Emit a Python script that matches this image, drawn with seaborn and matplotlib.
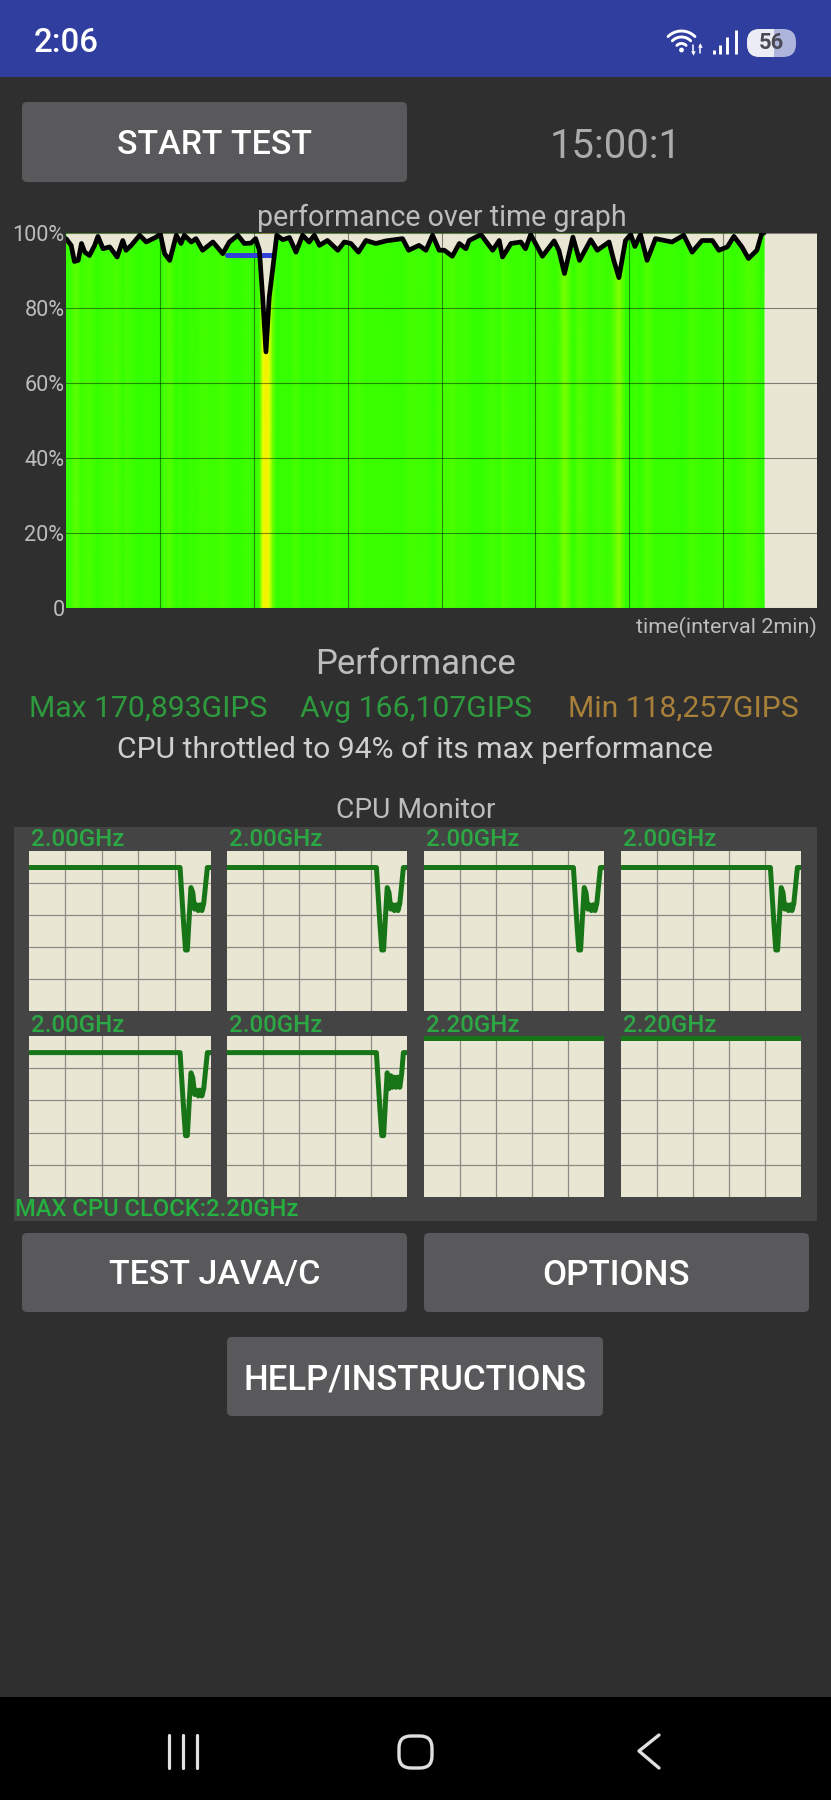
import numpy as np
import matplotlib
matplotlib.use("Agg")
import matplotlib.pyplot as plt
from matplotlib.colors import LinearSegmentedColormap, Normalize
from matplotlib.patches import FancyBboxPatch, Rectangle, Circle
import seaborn as sns

# ---------- data ----------
minutes = [0.00,.11,.18,.26,.33,.40,.50,.61,.68,.79,.93,1.09,1.21,1.28,1.39,1.57,1.71,1.92,2.01,2.10,2.21,2.35,2.45,2.52,2.67,2.77,2.91,3.13,3.34,3.48,3.66,3.80,3.94,4.04,4.12,4.19,4.26,4.33,4.40,4.49,4.62,4.76,4.90,5.04,5.18,5.29,5.40,5.57,5.79,5.93,6.07,6.23,6.39,6.60,6.82,7.17,7.30,7.52,7.67,7.81,7.95,8.06,8.23,8.38,8.52,8.59,8.84,9.09,9.23,9.30,9.48,9.69,9.79,9.90,10.15,10.40,10.50,10.62,10.80,10.94,11.18,11.32,11.57,11.67,11.78,11.92,12.03,12.12,12.24,12.38,12.56,12.91,13.16,13.34,13.55,13.77,13.91,14.09,14.23,14.40,14.54,14.72,14.82,14.87]
performance = [98.5,96.7,92.4,92.7,97.2,94.9,94.0,96.7,99.1,95.8,96.3,93.6,98.0,95.4,96.7,99.4,97.6,98.9,99.8,94.5,92.7,99.4,97.2,99.4,97.6,98.5,95.4,97.6,94.5,97.6,99.4,97.2,97.3,98.5,95.4,82.9,68.3,82.9,90.0,99.4,98.2,98.8,94.9,99.4,97.6,99.4,96.7,98.0,95.4,97.6,97.2,94.9,98.0,97.2,97.9,98.5,95.4,96.7,95.4,99.4,95.4,95.4,93.8,97.2,95.8,98.0,99.6,95.4,98.0,93.6,97.2,97.6,95.8,99.6,93.8,97.9,95.4,89.2,98.9,92.7,98.2,95.4,97.6,92.7,88.1,98.0,99.6,96.4,99.6,92.7,98.5,97.6,99.4,94.9,98.0,98.0,95.4,96.3,99.1,96.3,93.2,95.4,99.8,100.0]
throttle_x = [3.43, 4.42]
throttle_y = [94, 94]
y_ticks = [0, 20, 40, 60, 80, 100]
y_labels = ["0", "20%", "40%", "60%", "80%", "100%"]
x_ticks = [2, 4, 6, 8, 10, 12, 14]

core_x = [0,83,84,85,86,87,88,89,90,91,92,93,94,95,96,97,98,100]
core_a = [2.0,2.0,1.6,1.2,.85,.85,1.3,1.72,1.65,1.42,1.48,1.40,1.48,1.40,1.50,1.75,2.0,2.0]
core_b = [2.0,2.0,1.6,1.2,.85,.85,1.3,1.72,1.50,1.68,1.52,1.66,1.52,1.66,1.52,1.70,2.0,2.0]
core_c_x = [0, 100]
core_c = [2.2, 2.2]
core_labels = ["2.00GHz"]*6 + ["2.20GHz"]*2

BG = "#2F2F2F"; CREAM = "#E9E6D4"; BTN = "#59595B"; GREY = "#BDBDBD"
sns.set_style("white")
plt.rcParams["font.family"] = ["Roboto", "DejaVu Sans"]
W, H = 831, 1800
fig = plt.figure(figsize=(W/100, H/100), dpi=100, facecolor=BG)

bg = fig.add_axes([0, 0, 1, 1]); bg.set_xlim(0, W); bg.set_ylim(H, 0); bg.axis("off")

def axes_px(x0, y0, x1, y1):
    return fig.add_axes([x0/W, 1-y1/H, (x1-x0)/W, (y1-y0)/H])

def label(x, y, s, px, color=GREY, ha="center", weight="normal", ax=bg):
    ax.text(x, y+3, s, fontsize=px*0.72, color=color, ha=ha, va="center", fontweight=weight)

def button(x0, y0, x1, y1, s, px=36):
    bg.add_patch(FancyBboxPatch((x0, y0), x1-x0, y1-y0, boxstyle="round,pad=0,rounding_size=5",
                                fc=BTN, ec="none"))
    label((x0+x1)/2, (y0+y1)/2, s, px, "white", weight="medium")

# status bar
bg.add_patch(Rectangle((0, 0), W, 77, fc="#303F9F", ec="none"))
label(34, 40, "2:06", 33, "white", ha="left", weight="medium")
t = np.linspace(np.radians(225), np.radians(315), 30)
for r in (6.5, 13, 19):
    bg.plot(681.5+r*np.cos(t), 50+r*np.sin(t), color="white", lw=2.1, solid_capstyle="round")
bg.add_patch(Circle((681.5, 50), 2.4, fc="white", ec="none"))
bg.plot([693, 693], [45, 53], color="white", lw=1.1)
bg.plot([693], [53], marker="v", ms=3.2, color="white", mec="none")
bg.plot([700, 700], [45, 53], color="white", lw=1.1)
bg.plot([700], [45], marker="^", ms=3.2, color="white", mec="none")
for x, top in zip((714, 720, 727, 736), (50, 45, 37, 30)):
    bg.plot([x, x], [top, 54], color="white", lw=2.1, solid_capstyle="butt")
bg.add_patch(FancyBboxPatch((747, 29), 49, 28, boxstyle="round,pad=0,rounding_size=13", fc="#AEB5DC", ec="none"))
p = FancyBboxPatch((747, 29), 49, 28, boxstyle="round,pad=0,rounding_size=13", fc="#ECECF4", ec="none")
bg.add_patch(p)
p.set_clip_path(Rectangle((747, 29), 27, 28, transform=bg.transData))
label(771, 40, "56", 22, "#4A4A55", weight="bold")

# top row
button(22, 102, 407, 182, "START TEST", 34)
label(616, 143, "15:00:1", 40, "#ABABAB")
label(442, 215, "performance over time graph", 28.6)
label(817, 624, "time(interval 2min)", 21.5, ha="right")
label(415, 662, "Performance", 34.8)
label(29, 706, "Max 170,893GIPS", 30.1, "#2E9A3E", ha="left")
label(300, 706, "Avg 166,107GIPS", 30.1, "#2E9A3E", ha="left")
label(568, 706, "Min 118,257GIPS", 30.1, "#A8803A", ha="left")
label(415, 747, "CPU throttled to 94% of its max performance", 30, "#CFCFCF")
label(416, 808, "CPU Monitor", 28.3)

# main chart
ax = axes_px(66, 233, 817, 608)
ax.set_facecolor(CREAM)
cmap = LinearSegmentedColormap.from_list("perf", [
    (0.00, "#FFEE00"), (0.47, "#E0FF00"), (0.62, "#88FF00"),
    (0.80, "#4CFF00"), (1.00, "#30FF00")])
x_arr = np.array(minutes); y_arr = np.array(performance)
ax.pcolormesh(x_arr, [0, 100], np.vstack([y_arr, y_arr]), shading="gouraud", cmap=cmap,
              norm=Normalize(68, 100), zorder=1)
ax.fill_between(x_arr, y_arr, 100, color=CREAM, lw=0, zorder=2)
ax.set_xticks(x_ticks); ax.set_yticks(y_ticks); ax.set_yticklabels(y_labels)
ax.set_xticklabels([])
ax.grid(True, color="black", alpha=0.45, lw=0.8, zorder=3)
ax.set_axisbelow(False)
sns.lineplot(x=throttle_x, y=throttle_y, ax=ax, color="#3040D8", lw=3.6, alpha=1.0, zorder=4)
sns.lineplot(x=minutes, y=performance, ax=ax, color="black", lw=3.4, estimator=None, sort=False, zorder=5)
ax.set_xlim(0, 16); ax.set_ylim(0, 100)
ax.set_xlabel(""); ax.set_ylabel("")
ax.tick_params(axis="both", length=0, pad=1, labelcolor=GREY)
for tl in ax.get_yticklabels():
    tl.set_fontsize(21.7*0.72)
for s in ax.spines.values():
    s.set_visible(False)

# cpu monitor
bg.add_patch(Rectangle((14, 827), 803, 394, fc="#444444", ec="none"))
cols = [(29, 211), (227, 407), (424, 604), (621, 801)]
rows = [(851, 1011), (1036, 1197)]
series = [core_a]*5 + [core_b] + [core_c, core_c]
xs = [core_x]*6 + [core_c_x, core_c_x]
for i in range(8):
    (x0, x1), (y0, y1) = cols[i % 4], rows[i // 4]
    a = axes_px(x0, y0, x1, y1)
    a.set_facecolor(CREAM)
    sns.lineplot(x=xs[i], y=series[i], ax=a, color="#177517", lw=3.6, estimator=None, sort=False, zorder=3)
    a.set_xlim(0, 100); a.set_ylim(0, 2.23)
    a.set_xticks([20, 40, 60, 80]); a.set_yticks([.446, .892, 1.338, 1.784])
    a.set_xticklabels([]); a.set_yticklabels([])
    a.set_xlabel(""); a.set_ylabel("")
    a.tick_params(length=0)
    a.grid(True, color="#8C8C84", lw=0.9, zorder=1); a.set_axisbelow(True)
    for s in a.spines.values():
        s.set_visible(False)
    label(x0+2, y0-14, core_labels[i], 24, "#2BA843", ha="left", weight="medium")
label(15, 1206, "MAX CPU CLOCK:2.20GHz", 23.7, "#25B040", ha="left", weight="medium")

button(22, 1233, 407, 1312, "TEST JAVA/C", 34)
button(424, 1233, 809, 1312, "OPTIONS", 35)
button(227, 1337, 603, 1416, "HELP/INSTRUCTIONS", 34.8)

# navigation bar
bg.add_patch(Rectangle((0, 1697), W, 103, fc="black", ec="none"))
for x in (168.5, 183, 197):
    bg.plot([x, x], [1735, 1768], color="#E0E0E0", lw=2.3, solid_capstyle="round")
bg.add_patch(FancyBboxPatch((399, 1736), 33, 32, boxstyle="round,pad=0,rounding_size=12",
                            fc="none", ec="#E0E0E0", lw=2.4))
bg.plot([659, 639, 659], [1735, 1751, 1768], color="#E0E0E0", lw=2.4, solid_capstyle="round")
bg.set_xlim(0, W); bg.set_ylim(H, 0)

fig.savefig("out.png", dpi=100, facecolor=BG)
